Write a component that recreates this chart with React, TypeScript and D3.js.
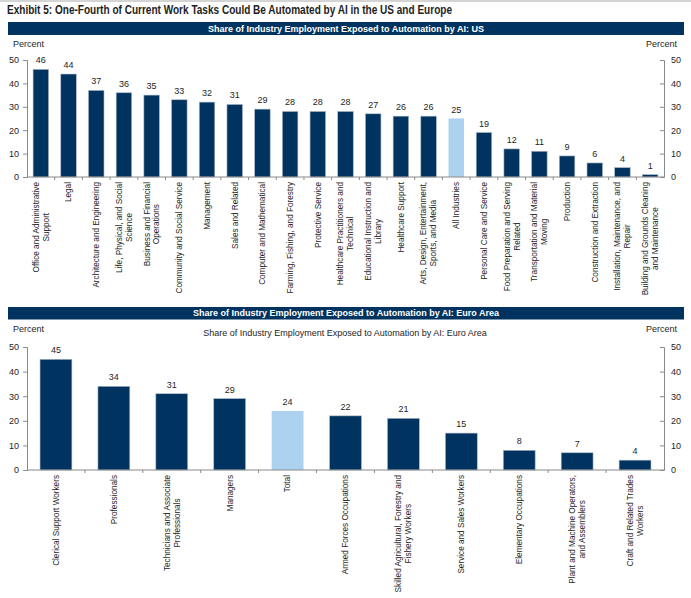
import React, { useEffect, useRef } from 'react';
import * as d3 from 'd3';

// US: share of industry employment exposed to automation by AI (percent)
const usCategories = [
  'Office and Administrative|Support',
  'Legal',
  'Architecture and Engineering',
  'Life, Physical, and Social|Science',
  'Business and Financial|Operations',
  'Community and Social Service',
  'Management',
  'Sales and Related',
  'Computer and Mathematical',
  'Farming, Fishing, and Forestry',
  'Protective Service',
  'Healthcare Practitioners and|Technical',
  'Educational Instruction and|Library',
  'Healthcare Support',
  'Arts, Design, Entertainment,|Sports, and Media',
  'All Industries',
  'Personal Care and Service',
  'Food Preparation and Serving|Related',
  'Transportation and Material|Moving',
  'Production',
  'Construction and Extraction',
  'Installation, Maintenance, and|Repair',
  'Building and Grounds Cleaning|and Maintenance',
];
const usValues = [46, 44, 37, 36, 35, 33, 32, 31, 29, 28, 28, 28, 27, 26, 26, 25, 19, 12, 11, 9, 6, 4, 1];

// Euro Area
const euCategories = [
  'Clerical Support Workers',
  'Professionals',
  'Technicians and Associate|Professionals',
  'Managers',
  'Total',
  'Armed Forces Occupations',
  'Skilled Agricultural, Forestry and|Fishery Workers',
  'Service and Sales Workers',
  'Elementary Occupations',
  'Plant and Machine Operators,|and Assemblers',
  'Craft and Related Trades|Workers',
];
const euValues = [45, 34, 31, 29, 24, 22, 21, 15, 8, 7, 4];

const totalCategories = ['All Industries', 'Total'];
const yTicks = [0, 10, 20, 30, 40, 50];

const NAVY = '#00335f';
const LIGHT = '#acd2ef';
const FONT = 'Liberation Sans, Arial, sans-serif';
const TEXT = '#1e1e1e';
const AXIS = '#8a8a8a';

type PanelOpts = {
  categories: string[];
  values: number[];
  top: number;      // y of 50
  bottom: number;   // y of 0
  padding: number;
};

function drawPanel(svg: d3.Selection<SVGSVGElement, unknown, null, undefined>, o: PanelOpts) {
  const left = 27, right = 664;
  const x = d3.scaleBand().domain(o.categories).range([left, right])
    .paddingInner(o.padding).paddingOuter(o.padding / 2);
  const y = d3.scaleLinear().domain([0, 50]).range([o.bottom, o.top]);
  const g = svg.append('g');

  // left axis
  const la = g.append('g').attr('transform', `translate(${left},0)`)
    .call(d3.axisLeft(y).tickValues(yTicks).tickSize(4).tickPadding(4));
  // right axis, ticks inward
  const ra = g.append('g').attr('transform', `translate(${right},0)`)
    .call(d3.axisRight(y).tickValues(yTicks).tickSize(-4).tickPadding(7));
  [la, ra].forEach(a => {
    a.select('.domain').attr('stroke', AXIS);
    a.selectAll('.tick line').attr('stroke', AXIS);
    a.selectAll('.tick text').attr('fill', TEXT).style('font-size', '9px').style('font-family', FONT);
  });

  // bars
  g.selectAll('rect.bar')
    .data(o.categories)
    .join('rect')
    .attr('class', 'bar')
    .attr('x', d => x(d)!)
    .attr('y', (d, i) => y(o.values[i]))
    .attr('width', x.bandwidth())
    .attr('height', (d, i) => y(0) - y(o.values[i]))
    .attr('fill', d => totalCategories.includes(d) ? LIGHT : NAVY)
    .attr('stroke', d => totalCategories.includes(d) ? 'none' : '#aab6c4')
    .attr('stroke-width', 0.6);

  // value labels
  g.selectAll('text.val')
    .data(o.categories)
    .join('text')
    .attr('class', 'val')
    .attr('x', d => x(d)! + x.bandwidth() / 2)
    .attr('y', (d, i) => y(o.values[i]) - 6)
    .attr('text-anchor', 'middle')
    .attr('fill', TEXT)
    .style('font-size', '9px')
    .style('font-family', FONT)
    .text((d, i) => o.values[i]);

  // x axis line and ticks between bands
  g.append('line')
    .attr('x1', left).attr('x2', right)
    .attr('y1', y(0)).attr('y2', y(0))
    .attr('stroke', AXIS);
  const gap = (x.step() - x.bandwidth()) / 2;
  g.selectAll('line.xt')
    .data(o.categories.slice(1))
    .join('line')
    .attr('class', 'xt')
    .attr('x1', d => x(d)! - gap).attr('x2', d => x(d)! - gap)
    .attr('y1', y(0)).attr('y2', y(0) + 3)
    .attr('stroke', AXIS);

  // category labels, rotated, lines centred on the longest line
  const labelTop = y(0) + 5;
  const lineH = 10;
  o.categories.forEach(cat => {
    const lines = cat.split('|');
    const cx = x(cat)! + x.bandwidth() / 2;
    const lg = g.append('g').attr('transform', `translate(${cx},${labelTop}) rotate(-90)`);
    const texts = lines.map((ln, i) =>
      lg.append('text')
        .attr('y', (i - (lines.length - 1) / 2) * lineH)
        .attr('dy', '0.35em')
        .attr('text-anchor', 'middle')
        .attr('fill', TEXT)
        .style('font-size', '8.2px')
        .style('font-family', FONT)
        .text(ln)
    );
    const maxLen = d3.max(texts, t => (t.node() as SVGTextElement).getComputedTextLength()) || 0;
    texts.forEach(t => t.attr('x', -maxLen / 2));
  });
}

export default function App() {
  const svgRef = useRef<SVGSVGElement>(null);

  useEffect(() => {
    if (!svgRef.current) return;
    const svg = d3.select(svgRef.current);
    svg.selectAll('*').remove();

    svg.append('rect').attr('x', 0).attr('y', 0).attr('width', 691).attr('height', 598).attr('fill', '#fff');
    svg.append('rect').attr('x', 0).attr('y', 0).attr('width', 691).attr('height', 2).attr('fill', '#d4d4d4');

    svg.append('text')
      .attr('x', 7).attr('y', 14)
      .attr('fill', TEXT)
      .attr('textLength', 445)
      .attr('lengthAdjust', 'spacingAndGlyphs')
      .style('font-family', 'Liberation Sans Narrow, Arial Narrow, sans-serif')
      .style('font-weight', 'bold')
      .style('font-size', '13px')
      .text('Exhibit 5: One-Fourth of Current Work Tasks Could Be Automated by AI in the US and Europe');

    const header = (y0: number, h: number, label: string) => {
      svg.append('rect').attr('x', 8).attr('y', y0).attr('width', 676).attr('height', h).attr('fill', NAVY);
      svg.append('text')
        .attr('x', 346).attr('y', y0 + h / 2).attr('dy', '0.35em')
        .attr('text-anchor', 'middle').attr('fill', '#fff')
        .style('font-family', FONT).style('font-weight', 'bold').style('font-size', '9px')
        .text(label);
    };
    const percent = (yc: number) => {
      svg.append('text').attr('x', 13).attr('y', yc).attr('dy', '0.35em')
        .attr('fill', TEXT).style('font-family', FONT).style('font-size', '9px').text('Percent');
      svg.append('text').attr('x', 677).attr('y', yc).attr('dy', '0.35em').attr('text-anchor', 'end')
        .attr('fill', TEXT).style('font-family', FONT).style('font-size', '9px').text('Percent');
    };

    header(22, 13, 'Share of Industry Employment Exposed to Automation by AI: US');
    percent(44);
    drawPanel(svg, { categories: usCategories, values: usValues, top: 60, bottom: 177, padding: 0.44 });

    header(307, 12.5, 'Share of Industry Employment Exposed to Automation by AI: Euro Area');
    svg.append('text')
      .attr('x', 345).attr('y', 333).attr('dy', '0.35em').attr('text-anchor', 'middle')
      .attr('fill', TEXT).style('font-family', FONT).style('font-size', '9px')
      .text('Share of Industry Employment Exposed to Automation by AI: Euro Area');
    percent(329);
    drawPanel(svg, { categories: euCategories, values: euValues, top: 347, bottom: 470, padding: 0.45 });
  }, []);

  return (
    <svg
      ref={svgRef}
      width={691}
      height={598}
      style={{ position: 'absolute', left: 0, top: 0, display: 'block' }}
    />
  );
}
